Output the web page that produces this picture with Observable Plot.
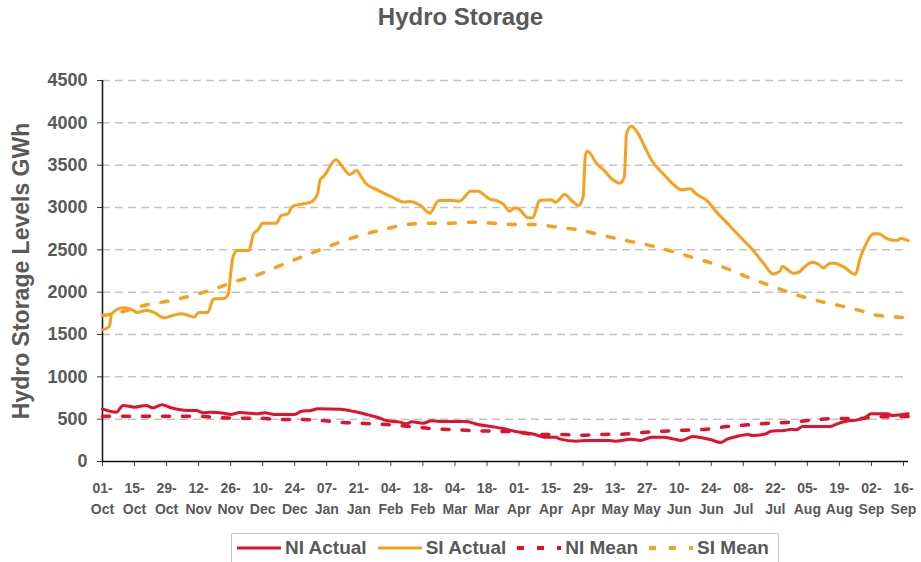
<!DOCTYPE html>
<html>
<head>
<meta charset="utf-8">
<script src="https://cdn.jsdelivr.net/npm/d3@7"></script>
<script src="https://cdn.jsdelivr.net/npm/@observablehq/plot@0.6"></script>
<style>
  html, body { margin: 0; padding: 0; background: #fff; }
  #wrap { position: relative; width: 921px; height: 562px; overflow: hidden; font-family: "Liberation Sans", Arial, sans-serif; }
  #title { height: 36px; padding-top: 4px; line-height: 26px; text-align: center; font-size: 24px; font-weight: bold; color: #595959; }
  #legend { position: absolute; left: 231px; top: 533px; width: 548px; height: 40px; border: 1px solid #c8c8c8; display: flex; align-items: flex-start; padding: 0 6px 0 5px; box-sizing: border-box; }
  .item { display: flex; align-items: center; height: 28px; margin-right: 11px; }
  .item:last-child { margin-right: 0; }
  .item svg { margin-right: 4px; }
  .item span { font-size: 19px; font-weight: bold; color: #595959; }
</style>
</head>
<body>
<div id="wrap">
  <div id="title"></div>
  <div id="chart"></div>
  <div id="legend"></div>
</div>
<script>
const titleText = "Hydro Storage";
const yAxisLabel = "Hydro Storage Levels GWh";
const yTicks = [0, 500, 1000, 1500, 2000, 2500, 3000, 3500, 4000, 4500];
const xTickLabels = ["01-Oct","15-Oct","29-Oct","12-Nov","26-Nov","10-Dec","24-Dec","07-Jan","21-Jan","04-Feb","18-Feb","04-Mar","18-Mar","01-Apr","15-Apr","29-Apr","13-May","27-May","10-Jun","24-Jun","08-Jul","22-Jul","05-Aug","19-Aug","02-Sep","16-Sep"];
const seriesNames = ["NI Actual", "SI Actual", "NI Mean", "SI Mean"];
const seriesColors = ["#e0122d", "#f8a01c", "#e0122d", "#f8a01c"];

// days since 01-Oct
const siActualDay = [0,3,4,9,13,15,19,22,27,31,35,40,42,46,48,49,53,55,56,57,59,64,66,68,70,76,78,81,83,86,91,94,95,97,102,105,108,111,113,115,120,126,132,134,139,143,147,152,156,161,164,169,172,175,178,180,182,186,188,191,196,198,202,205,208,210,211,212,216,219,223,226,228,229,231,234,237,240,245,250,253,257,259,264,269,274,279,285,289,293,296,297,302,304,307,310,313,315,318,320,324,329,331,333,337,339,343,347,349,352];
const siActualValue = [1555,1594,1744,1815,1792,1760,1783,1767,1697,1728,1744,1705,1760,1760,1901,1921,1925,1980,2216,2413,2492,2492,2689,2736,2814,2814,2905,2925,3012,3036,3063,3162,3319,3378,3563,3476,3389,3437,3366,3287,3209,3130,3063,3071,3023,2933,3083,3083,3075,3193,3193,3102,3083,3043,2956,2995,2980,2878,2878,3083,3091,3063,3153,3083,3023,3122,3614,3665,3516,3445,3327,3287,3358,3870,3960,3877,3712,3555,3398,3260,3209,3221,3169,3083,2925,2787,2642,2472,2335,2216,2248,2303,2224,2232,2303,2354,2327,2287,2343,2343,2295,2209,2394,2531,2689,2689,2630,2610,2634,2610];

const siMeanDay = [0,3,20,30,39,49,57,67,76,86,95,105,114,124,133,143,152,161,171,180,189,199,208,217,227,236,245,255,264,274,282,292,301,311,320,330,339,348,352];
const siMeanValue = [1724,1735,1854,1901,1960,2039,2118,2197,2295,2406,2500,2602,2681,2748,2799,2814,2814,2826,2814,2799,2799,2767,2736,2681,2618,2571,2512,2433,2362,2267,2177,2075,1988,1909,1854,1791,1724,1704,1700];

const niActualDay = [0,6,9,14,19,22,26,30,37,41,44,47,53,56,60,68,71,75,84,87,91,94,104,110,116,120,124,130,133,135,140,144,149,159,164,170,175,180,189,193,198,200,207,212,221,224,231,235,240,245,250,253,258,262,266,270,273,277,282,284,290,292,298,301,303,306,318,321,325,330,333,336,343,345,349,352];
const niActualValue = [622,582,661,642,661,634,669,634,602,602,575,582,571,555,578,563,575,555,555,594,602,622,618,590,551,523,484,465,445,469,453,480,472,472,437,413,390,358,319,287,287,264,240,248,248,240,264,248,287,287,264,248,295,280,256,224,264,295,319,307,327,358,366,382,374,413,413,445,476,492,516,563,563,543,551,563];

const niMeanDay = [0,12,21,30,40,49,58,68,77,86,96,105,115,124,133,143,152,161,170,180,189,199,208,217,227,236,245,255,264,273,282,292,301,311,320,330,339,348,352];
const niMeanValue = [535,535,535,535,535,523,512,512,496,496,484,461,449,437,417,390,378,366,358,350,319,319,311,319,323,342,358,370,382,413,433,453,465,492,508,508,527,531,531];

const startDate = new Date(Date.UTC(2010, 9, 1));
const toDate = d => new Date(+startDate + d * 864e5);
const parseTick = s => {
  const t = d3.utcParse("%d-%b-%Y")(s + "-2010");
  return t < startDate ? d3.utcParse("%d-%b-%Y")(s + "-2011") : t;
};
const tickDates = xTickLabels.map(parseTick);
const tickLabelMap = new Map(tickDates.map((d, i) => [+d, xTickLabels[i].replace("-", "-\n")]));

const rows = (days, vals) => days.map((d, i) => ({date: toDate(d), v: vals[i]}));
const niA = rows(niActualDay, niActualValue);
const siA = rows(siActualDay, siActualValue);
const niM = rows(niMeanDay, niMeanValue);
const siM = rows(siMeanDay, siMeanValue);

document.getElementById("title").textContent = titleText;

const chart = Plot.plot({
  width: 921,
  height: 485,
  marginLeft: 102,
  marginRight: 13,
  marginTop: 40,
  marginBottom: 64,
  x: {type: "utc", domain: [startDate, toDate(352.2)]},
  y: {domain: [0, 4500]},
  style: {fontFamily: "'Liberation Sans', Arial, sans-serif", color: "#595959", background: "white", overflow: "visible"},
  marks: [
    Plot.gridY(yTicks.filter(v => v > 0), {stroke: "#c4c4c4", strokeOpacity: 1, strokeWidth: 1.5, strokeDasharray: "8,5"}),
    Plot.axisY(yTicks, {tickSize: 5, tickPadding: 10, fontSize: 18, fontWeight: "bold", label: null, stroke: "#404040", fill: "#595959", tickFormat: d => String(d)}),
    Plot.axisX(tickDates, {tickSize: 5, tickPadding: 12, fontSize: 14, fontWeight: "bold", lineHeight: 1.5, label: null, stroke: "#404040", fill: "#595959", tickFormat: d => tickLabelMap.get(+d)}),
    Plot.ruleX([startDate], {stroke: "#111", strokeWidth: 1.5}),
    Plot.ruleY([0], {stroke: "#111", strokeWidth: 1.5}),
    Plot.line(siM, {x: "date", y: "v", stroke: seriesColors[3], strokeWidth: 3.5, strokeDasharray: "7,13", curve: "monotone-x"}),
    Plot.line(niM, {x: "date", y: "v", stroke: seriesColors[2], strokeWidth: 3.5, strokeDasharray: "7,13", curve: "monotone-x"}),
    Plot.line(siA, {x: "date", y: "v", stroke: seriesColors[1], strokeWidth: 3, curve: "monotone-x"}),
    Plot.line(niA, {x: "date", y: "v", stroke: seriesColors[0], strokeWidth: 3, curve: "monotone-x"}),
    Plot.text([yAxisLabel], {frameAnchor: "left", textAnchor: "middle", rotate: -90, dx: -81, fontSize: 23, fontWeight: "bold", fill: "#595959"})
  ]
});
document.getElementById("chart").appendChild(chart);

const legend = document.getElementById("legend");
seriesNames.forEach((name, i) => {
  const item = document.createElement("div");
  item.className = "item";
  const dashed = i >= 2;
  item.innerHTML = `<svg width="44" height="10"><line x1="0" x2="44" y1="5" y2="5" stroke="${seriesColors[i]}" stroke-width="${dashed ? 4 : 3}" ${dashed ? 'stroke-dasharray="7,13"' : ''}/></svg><span>${name}</span>`;
  legend.appendChild(item);
});
</script>
</body>
</html>
